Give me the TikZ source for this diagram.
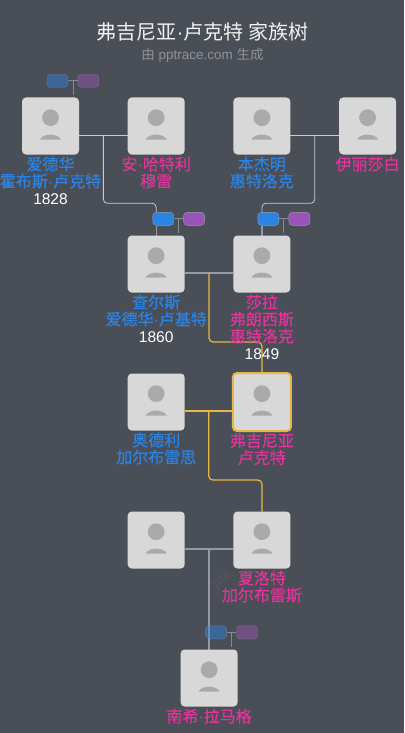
\documentclass[tikz,border=0pt]{standalone}
\usepackage{fontspec}
\setmainfont{Liberation Sans}
\newfontfamily\cjk{Noto Sans CJK SC}
\newfontfamily\cjkheavy[FakeBold=0.5]{Noto Sans CJK SC}
\usetikzlibrary{positioning, backgrounds, calc}
\definecolor{slate}{RGB}{74, 79, 87}
\definecolor{cardgrey}{RGB}{216, 216, 216}
\definecolor{icongrey}{RGB}{170, 170, 170}
\definecolor{linegrey}{RGB}{200, 203, 208}
\definecolor{stemgrey}{RGB}{150, 155, 163}
\definecolor{gold}{RGB}{232, 182, 66}
\definecolor{malecol}{RGB}{42, 132, 230}
\definecolor{femalecol}{RGB}{226, 52, 154}
\definecolor{purplecol}{RGB}{154, 83, 184}
\definecolor{glowblue}{RGB}{72, 96, 140}
\newcommand{\birthyear}[1]{{\color{white}\fontspec{Liberation Sans}\fontsize{15.5}{16.5}\selectfont #1}}
\newcommand{\middot}{{\fontspec{Liberation Sans}·}}

\begin{document}
\begin{tikzpicture}[x=1pt, y=1pt,
            card/.style={fill=cardgrey, rounded corners=4pt, minimum size=57pt, inner sep=0pt, outer sep=0pt,
                path picture={
                    \fill[icongrey, sharp corners] ($(path picture bounding box.center)+(0,8.3)$) circle (8.4pt);
                    \fill[icongrey, sharp corners] ($(path picture bounding box.center)+(-10.5,-13.5)$) .. controls +(3,6.5) and +(-3,6.5) .. +(21,0) -- cycle;
                }},
            selfcard/.style={card, draw=gold, line width=2pt, minimum size=58pt},
            person/.style={font=\cjkheavy\fontsize{16}{17}\selectfont, align=center, inner sep=0pt},
            male/.style={person, text=malecol},
            female/.style={person, text=femalecol},
            badge/.style={draw=stemgrey, rounded corners=3.5pt, minimum width=21pt, minimum height=13pt, inner sep=0pt},
            fatherbadge/.style={badge, fill=malecol},
            motherbadge/.style={badge, fill=purplecol, right=9.5pt of #1},
            link/.style={draw=linegrey, line width=0.8pt},
            stem/.style={draw=stemgrey, line width=1.2pt},
            goldlink/.style={draw=gold, line width=1.2pt}
        ]
            \useasboundingbox (0,0) rectangle (404,-733);
            \begin{scope}[on background layer]
                \fill[slate] (0,0) rectangle (404,-733);
                \node[font=\fontsize{14}{14}\selectfont, text=slate!95!white, rotate=35, anchor=west, inner sep=0pt] (mark) at (214,-586) {ppt};
            \end{scope}

            % titles
            \node[font=\cjk\fontsize{20}{20}\selectfont, text=white!92!slate, inner sep=0pt] (title) at (202.5,-32) {弗吉尼亚\middot 卢克特 家族树};
            \node[font=\fontsize{13.5}{14}\selectfont, text=white!38!slate, inner sep=0pt, below=6pt of title] (sub) {{\cjk 由} pptrace.com {\cjk 生成}};

            % people
            \node[card] (edward) at (50.5,-126) {};
            \node[card, right=48.7pt of edward] (anne) {};
            \node[card, right=48.7pt of anne] (benjamin) {};
            \node[card, right=48.7pt of benjamin] (elizabeth) {};
            \node[card, below=81pt of anne] (charles) {};
            \node[card, below=81pt of benjamin] (sara) {};
            \node[card, below=81pt of charles] (audley) {};
            \node[selfcard, below=80.5pt of sara] (virginia) {};
            \node[card, below=81pt of audley] (unknown) {};
            \node[card, below=80.5pt of virginia] (charlotte) {};
            \node[card, below=81pt of unknown, xshift=52.9pt] (nancy) {};

            % names
            \node[male, below=2pt of edward] (edwardname) {爱德华\\霍布斯\middot 卢克特\\\birthyear{1828}};
            \node[female, below=2pt of anne] (annename) {安\middot 哈特利\\穆雷};
            \node[male, below=2pt of benjamin] (benjaminname) {本杰明\\惠特洛克};
            \node[female, below=2pt of elizabeth] (elizabethname) {伊丽莎白};
            \node[male, below=2pt of charles] (charlesname) {查尔斯\\爱德华\middot 卢基特\\\birthyear{1860}};
            \node[female, below=2pt of sara] (saraname) {莎拉\\弗朗西斯\\惠特洛克\\\birthyear{1849}};
            \node[male, below=2pt of audley] (audleyname) {奥德利\\加尔布雷思};
            \node[female, below=2pt of virginia] (virginianame) {弗吉尼亚\\卢克特};
            \node[female, below=2pt of charlotte] (charlottename) {夏洛特\\加尔布雷斯};
            \node[female, below=2pt of nancy] (nancyname) {南希\middot 拉马格};

            % dna badges
            \node[fatherbadge, opacity=0.45, above=10pt of edward, xshift=7pt] (edwardm) {};
            \node[motherbadge=edwardm, opacity=0.45] (edwardf) {};
            \node[fatherbadge, above=10pt of charles, xshift=7pt] (charlesm) {};
            \node[motherbadge=charlesm] (charlesf) {};
            \node[fatherbadge, above=10pt of sara, xshift=6.5pt] (saram) {};
            \node[motherbadge=saram] (saraf) {};
            \node[fatherbadge, opacity=0.45, above=10.5pt of nancy, xshift=7pt] (nancym) {};
            \node[motherbadge=nancym, opacity=0.45] (nancyf) {};

            \begin{scope}[on background layer]
                \foreach \glow in {20,16,12,8,4}
                    \fill[glowblue, opacity=0.035, rounded corners=14pt] ($(virginia.south west)+(-\glow,-\glow)$) rectangle ($(virginia.north east)+(\glow,\glow)$);

                % couples
                \draw[link] ($(edward.east)+(0,-9.3)$) -- ($(anne.west)+(0,-9.3)$);
                \draw[link] ($(benjamin.east)+(0,-9.3)$) -- ($(elizabeth.west)+(0,-9.3)$);
                \draw[stem] ($(charles.east)+(0,-9)$) -- ($(sara.west)+(0,-9)$);
                \draw[stem] ($(unknown.east)+(0,-9)$) -- ($(charlotte.west)+(0,-9)$);
                \draw[goldlink] ($(audley.east)+(0,-9)$) -- ($(virginia.west)+(0,-9)$);

                % descent
                \coordinate (edwardjoin) at ($(edward.east)!0.5!(anne.west)+(0,-9.3)$);
                \coordinate (benjaminjoin) at ($(benjamin.east)!0.5!(elizabeth.west)+(0,-9.3)$);
                \coordinate (charlesjoin) at ($(charles.east)!0.5!(sara.west)+(0,-9)$);
                \coordinate (audleyjoin) at ($(audley.east)!0.5!(virginia.west)+(0,-9)$);
                \coordinate (unknownjoin) at ($(unknown.east)!0.5!(charlotte.west)+(0,-9)$);
                \draw[link, rounded corners=4pt] (edwardjoin) -- ++(0,-68) -| (charlesm.north -| charles.north);
                \draw[link, rounded corners=4pt] (benjaminjoin) -- ++(0,-68) -| (saram.north -| sara.north);
                \draw[goldlink, rounded corners=4pt] (charlesjoin) -- ++(0,-69) -| (virginia.north);
                \draw[goldlink, rounded corners=4pt] (audleyjoin) -- ++(0,-69) -| (charlotte.north);
                \draw[stem] (unknownjoin) -- (nancy.north -| unknownjoin);

                % badge stems
                \draw[stem] (charles.north) -- (charlesm.south -| charles.north);
                \draw[stem] (sara.north) -- (saram.south -| sara.north);
                \foreach \who in {edward, charles, sara, nancy}{
                    \draw[stem, opacity=0.8, line width=0.9pt] (\who m.east) -- (\who f.west);
                    \draw[stem, opacity=0.8, line width=0.9pt] ($(\who m.east)!0.5!(\who f.west)$) -- ++(0,-14.5);
                }
            \end{scope}
        \end{tikzpicture}
\end{document}
